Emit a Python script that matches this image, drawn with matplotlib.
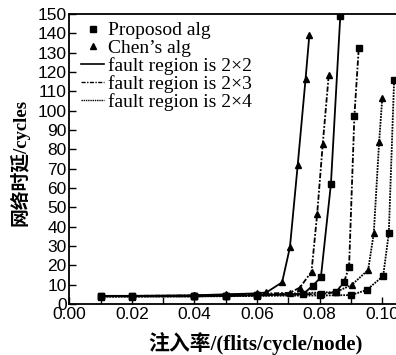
import matplotlib
matplotlib.use("Agg")
import matplotlib.pyplot as plt
from matplotlib.lines import Line2D

# 注入率 / 网络时延 数据
base_x = [0.01, 0.02, 0.04, 0.05, 0.06]

prop_22_x = base_x + [0.0748, 0.0778, 0.0804, 0.0836, 0.0866]
prop_22_y = [4.0, 4.0, 4.0, 4.2, 4.5, 5.2, 9.5, 13.8, 62.0, 149.0]

chen_22_x = base_x + [0.063, 0.068, 0.0705, 0.073, 0.0755, 0.0767]
chen_22_y = [4.2, 4.2, 4.5, 5.0, 5.5, 6.0, 11.2, 29.3, 72.0, 116.4, 139.0]

prop_23_x = base_x + [0.0804, 0.0852, 0.0878, 0.0894, 0.0911, 0.0925]
prop_23_y = [4.0, 4.0, 4.0, 4.2, 4.4, 5.2, 6.0, 11.5, 19.0, 97.3, 132.3]

chen_23_x = base_x + [0.0705, 0.0737, 0.0774, 0.0792, 0.081, 0.0829]
chen_23_y = [4.2, 4.2, 4.4, 4.8, 5.2, 5.8, 8.5, 16.7, 46.4, 82.9, 118.3]

prop_24_x = base_x + [0.08, 0.09, 0.095, 0.1003, 0.1021, 0.1038]
prop_24_y = [3.8, 3.8, 3.9, 4.0, 4.2, 4.4, 4.6, 7.2, 14.5, 36.6, 116.0]

chen_24_x = base_x + [0.0852, 0.0902, 0.0955, 0.0973, 0.099, 0.1]
chen_24_y = [4.0, 4.0, 4.2, 4.5, 4.8, 6.2, 9.8, 17.6, 36.6, 83.6, 106.4]

legend_labels = ["Proposod alg", "Chen\u2019s alg",
                 "fault region is 2\u00d72", "fault region is 2\u00d73",
                 "fault region is 2\u00d74"]

SERIF = ["Liberation Serif", "Noto Sans CJK SC"]
ls_22 = "-"
ls_23 = (0, (3, 1, 1, 1))
ls_24 = (0, (1, 0.6))

fig = plt.figure(figsize=(3.96, 3.55), dpi=100)
ax = fig.add_axes([0.175, 0.1437, 0.825, 0.8169])

series = [
    (prop_22_x, prop_22_y, "s", ls_22),
    (chen_22_x, chen_22_y, "^", ls_22),
    (prop_23_x, prop_23_y, "s", ls_23),
    (chen_23_x, chen_23_y, "^", ls_23),
    (prop_24_x, prop_24_y, "s", ls_24),
    (chen_24_x, chen_24_y, "^", ls_24),
]
for xs, ys, mk, ls in series:
    ax.plot(xs, ys, color="black", linestyle=ls, linewidth=1.3,
            marker=mk, markersize=4)

ax.set_xlim(0, 0.1044)
ax.set_ylim(0, 150)
ax.set_xticks([0.0, 0.02, 0.04, 0.06, 0.08, 0.10])
ax.set_xticklabels(["0.00", "0.02", "0.04", "0.06", "0.08", "0.10"])
ax.set_xticks([0.01, 0.03, 0.05, 0.07, 0.09], minor=True)
ax.set_yticks(range(0, 151, 10))
ax.tick_params(axis="both", which="both", direction="in", labelsize=12.5,
               length=5, width=1)
ax.tick_params(axis="x", pad=2)
ax.tick_params(axis="y", pad=2)
for lab in ax.get_xticklabels() + ax.get_yticklabels():
    lab.set_fontfamily("Liberation Sans")
for sp in ax.spines.values():
    sp.set_linewidth(1.3)
ax.spines["right"].set_visible(False)

ax.set_xlabel("注入率/(flits/cycle/node)", family=SERIF, fontsize=15,
              fontweight="bold")
ax.xaxis.set_label_coords(0.57, -0.095)
# y 轴标题用 fig.text 精确定位
fig.text(20 / 396, 1 - 162 / 355, "网络时延/cycles", family=SERIF,
         fontsize=13.5, fontweight="bold", rotation=90,
         ha="center", va="center")

handles = [
    Line2D([], [], color="black", marker="s", linestyle="none", markersize=4),
    Line2D([], [], color="black", marker="^", linestyle="none", markersize=4),
    Line2D([], [], color="black", linestyle=ls_22, linewidth=1.2),
    Line2D([], [], color="black", linestyle=ls_23, linewidth=1.0),
    Line2D([], [], color="black", linestyle=ls_24, linewidth=1.0),
]
ax.legend(handles, legend_labels, loc="upper left", frameon=False,
          prop={"family": SERIF, "size": 14}, handlelength=1.2,
          handletextpad=0.2, labelspacing=0.0, borderaxespad=0.0,
          bbox_to_anchor=(0.012, 1.0))

fig.savefig("out.png", dpi=100)
